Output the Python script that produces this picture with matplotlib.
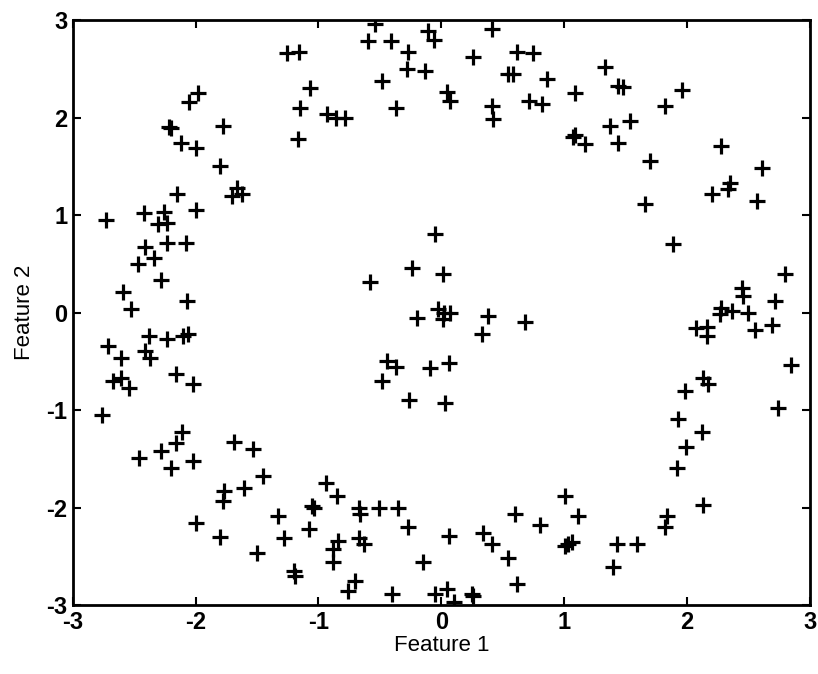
import matplotlib
matplotlib.use("Agg")
import matplotlib.pyplot as plt

# points (feature 1, feature 2)
feat1 = [
    -1.26, -1.16, -1.07, -1.15, -1.17, -1.98, -2.05, -2.22, -2.20, -2.12,
    -2.00, -1.78, -1.80, -1.66, -1.70, -1.62, -2.15, -2.00, -2.42, -2.26,
    -2.73, -2.31, -2.23, -2.41, -2.34, -2.23, -2.08, -2.47, -2.28, -2.59,
    -2.53, -2.07, -2.38, -2.23, -2.10, -2.06, -2.71, -2.61, -2.41, -2.37,
    -2.16, -2.02, -2.67, -2.61, -2.54, -2.76,
    -2.11, -2.16, -2.28, -2.46, -2.20, -2.02, -1.69, -1.53, -1.45, -1.77,
    -1.61, -1.78, -2.00, -1.80, -1.50, -1.33, -1.28, -1.08, -1.05, -1.04,
    -1.20, -1.19,
    -0.94, -0.85, -0.67, -0.66, -0.51, -0.35, -0.27, -0.84, -0.88, -0.67,
    -0.63, -0.88, -0.15, 0.06, -0.70, -0.76, -0.40, -0.05, 0.05, 0.10,
    0.25, 0.26, 0.34, 0.41, 0.54, 0.60, 0.62, 0.80, 1.01, 1.01,
    1.03, 1.06,
    1.11, 1.43, 1.59, 1.40, 1.84, 1.82, 1.92, 1.99, 2.12, 1.93,
    2.13,
    1.89, 2.80, 2.45, 2.46, 2.72, 2.28, 2.27, 2.37, 2.50, 2.07,
    2.16, 2.16, 2.55, 2.69, 2.85, 2.13, 2.17, 1.98, 2.74,
    1.33, 1.44, 1.48, 1.09, 1.96, 1.82, 1.37, 1.54, 1.09, 1.17,
    1.07, 1.44, 1.70, 2.28, 2.61, 2.35, 2.33, 2.20, 2.57, 1.66,
    -0.54, -0.60, -0.41, -0.11, -0.06, -0.27, -0.28, -0.13, 0.41, 0.26,
    0.62, 0.75, 0.54, 0.58, 0.86, -0.48, 0.05, 0.07, 0.41, 0.42,
    0.71, 0.82, -0.37, -0.93, -0.86, -0.78,
    -0.05, -0.24, 0.01, -0.58, -0.20, -0.03, 0.02, 0.01, 0.07, 0.38,
    0.33, 0.68, -0.44, -0.37, -0.48, -0.09, 0.06, -0.26, 0.03,
]
feat2 = [
    2.66, 2.67, 2.30, 2.10, 1.78, 2.25, 2.16, 1.91, 1.89, 1.74,
    1.69, 1.92, 1.51, 1.28, 1.20, 1.22, 1.22, 1.05, 1.02, 1.03,
    0.95, 0.91, 0.92, 0.67, 0.56, 0.72, 0.72, 0.50, 0.34, 0.21,
    0.04, 0.12, -0.24, -0.27, -0.24, -0.22, -0.34, -0.46, -0.39, -0.46,
    -0.63, -0.73, -0.70, -0.67, -0.77, -1.05,
    -1.22, -1.34, -1.42, -1.49, -1.59, -1.52, -1.33, -1.40, -1.67, -1.83,
    -1.80, -1.93, -2.16, -2.30, -2.46, -2.08, -2.31, -2.22, -1.98, -2.00,
    -2.65, -2.70,
    -1.75, -1.88, -2.00, -2.06, -2.00, -2.00, -2.20, -2.34, -2.42, -2.31,
    -2.37, -2.56, -2.56, -2.29, -2.75, -2.85, -2.88, -2.88, -2.83, -2.97,
    -2.88, -2.90, -2.26, -2.37, -2.52, -2.06, -2.78, -2.18, -1.88, -2.39,
    -2.37, -2.35,
    -2.08, -2.37, -2.37, -2.61, -2.08, -2.20, -1.59, -1.38, -1.22, -1.09,
    -1.97,
    0.71, 0.40, 0.25, 0.17, 0.12, 0.05, -0.01, 0.02, 0.00, -0.16,
    -0.15, -0.24, -0.18, -0.13, -0.54, -0.67, -0.73, -0.80, -0.98,
    2.52, 2.33, 2.31, 2.25, 2.28, 2.12, 1.92, 1.97, 1.82, 1.73,
    1.80, 1.74, 1.56, 1.71, 1.48, 1.33, 1.27, 1.22, 1.15, 1.12,
    2.96, 2.79, 2.79, 2.89, 2.80, 2.67, 2.50, 2.48, 2.91, 2.62,
    2.67, 2.66, 2.45, 2.45, 2.40, 2.38, 2.26, 2.17, 2.12, 1.99,
    2.17, 2.14, 2.10, 2.04, 2.00, 2.00,
    0.81, 0.46, 0.40, 0.32, -0.05, 0.04, 0.00, -0.06, 0.00, -0.03,
    -0.22, -0.09, -0.49, -0.56, -0.70, -0.57, -0.52, -0.89, -0.93,
]
x_ticks = [-3, -2, -1, 0, 1, 2, 3]
y_ticks = [-3, -2, -1, 0, 1, 2, 3]

plt.rcParams['font.family'] = ['Liberation Sans', 'DejaVu Sans']
plt.rcParams['axes.unicode_minus'] = False

fig = plt.figure(figsize=(8.18, 6.74), dpi=100)
ax = fig.add_axes([0.089, 0.102, 0.901, 0.868])
ax.plot(feat1, feat2, linestyle='none', marker='+', color='black',
        markersize=12, markeredgewidth=2.3)

ax.set_xlim(-3, 3)
ax.set_ylim(-3, 3)
ax.set_xticks(x_ticks)
ax.set_yticks(y_ticks)
ax.tick_params(direction='in', top=True, right=True, length=6, width=1.5,
               labelsize=17, pad=4)
for lbl in ax.get_xticklabels() + ax.get_yticklabels():
    lbl.set_fontweight('bold')
for sp in ax.spines.values():
    sp.set_linewidth(2)
ax.set_xlabel('Feature 1', fontsize=16, labelpad=1)
ax.set_ylabel('Feature 2', fontsize=16, labelpad=8)

fig.savefig('out.png', dpi=100)
